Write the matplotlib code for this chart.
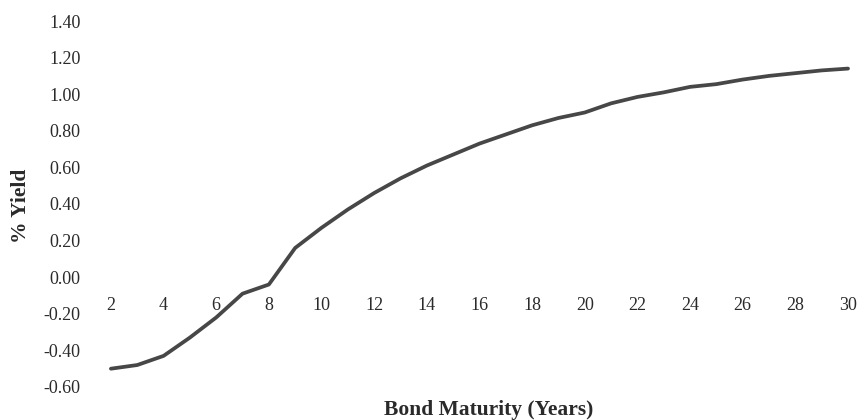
import matplotlib
matplotlib.use("Agg")
import matplotlib.pyplot as plt

years = list(range(2, 31))
yields = [-0.50, -0.48, -0.43, -0.33, -0.22, -0.09, -0.04, 0.16, 0.27, 0.37, 0.46,
          0.54, 0.61, 0.67, 0.73, 0.78, 0.83, 0.87, 0.90, 0.95, 0.985, 1.01, 1.04,
          1.055, 1.08, 1.10, 1.115, 1.13, 1.14]
xticks = list(range(2, 31, 2))
yticks = [-0.6, -0.4, -0.2, 0.0, 0.2, 0.4, 0.6, 0.8, 1.0, 1.2, 1.4]

plt.rcParams['font.family'] = ['Liberation Serif', 'DejaVu Serif']

fig = plt.figure(figsize=(8.59, 4.2), dpi=100)
ax = fig.add_axes([0.123, 0.0786, 0.9964 - 0.123, 0.95 - 0.0786])
ax.plot(years, yields, color='#474747', lw=2.7, solid_capstyle='round',
        solid_joinstyle='round')
ax.set_xlim(1.8, 30.3)
ax.set_ylim(-0.6, 1.4)
ax.set_xticks(xticks)
ax.set_xticklabels([str(t) for t in xticks])
ax.set_yticks(yticks)
ax.set_yticklabels([f"{t:.2f}" for t in yticks])
for s in ['top', 'right', 'left', 'bottom']:
    ax.spines[s].set_visible(False)
ax.spines['bottom'].set_position(('data', 0))
ax.tick_params(axis='x', length=0, pad=14, labelsize=13, colors='#2a2a2a')
ax.tick_params(axis='y', length=0, pad=18, labelsize=13, colors='#2a2a2a')

fig.text(0.024, 0.51, '% Yield', rotation=90, ha='center', va='center',
         fontsize=15.5, fontweight='bold', color='#2a2a2a')
fig.text(0.569, 0.024, 'Bond Maturity (Years)', ha='center', va='center',
         fontsize=15.5, fontweight='bold', color='#2a2a2a')

fig.savefig('out.png', dpi=100)
